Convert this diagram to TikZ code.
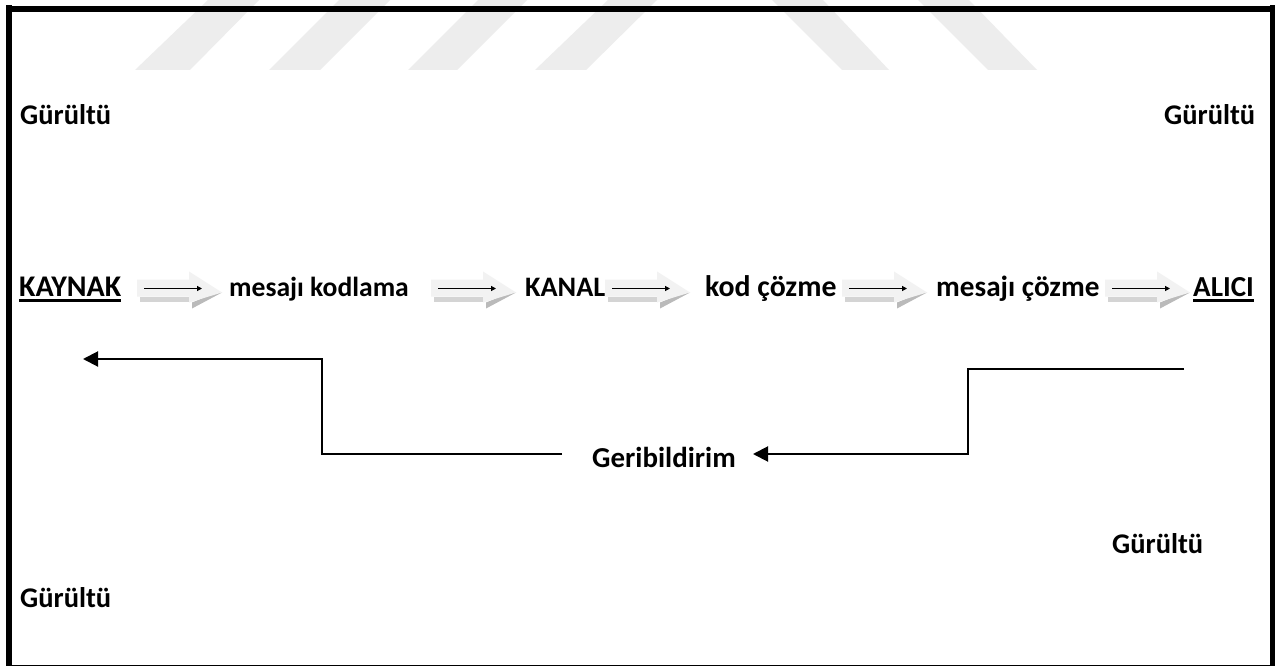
\documentclass[tikz,border=0pt]{standalone}
\usepackage{fontspec}
\setmainfont{Carlito}
\usetikzlibrary{arrows.meta}
\tikzset{
 lbl/.style={font=\fontsize{#1}{#1}\bfseries\selectfont,inner sep=0pt,anchor=base west,text=black},
 lbl/.default=28.5,
 stripe/.style={fill=black!7,draw=none},
 frameedge/.style={fill=black,draw=none},
 fb/.style={draw=black,line width=2pt,-{Triangle[length=15pt,width=15pt]}},
 thinarrow/.style={draw=black,line width=1.2pt,-{Triangle[length=5pt,width=5pt]}},
 uline/.style={draw=black,line width=2.5pt},
}
\newcommand{\blockarrow}[3]{% name, x start, thin-arrow y
 \begin{scope}[shift={(#2,#3)}]
  \fill[black!17] (3,8) rectangle (53,13);
  \fill[black!27] (55,14)--(80,4)--(85,4)--(55,20)--cycle;
  \fill[black!5] (0,-9)--(52,-9)--(52,-17)--(85,4)--(52,14)--(52,8)--(0,8)--cycle;
  \coordinate (#1s) at (7,0);
  \coordinate (#1e) at (65,0);
  \draw[thinarrow] (#1s) -- (#1e);
 \end{scope}}
\begin{document}
\begin{tikzpicture}[x=1pt,y=-1pt]
\useasboundingbox (0,0) rectangle (1280,666);
\fill[white] (0,0) rectangle (1280,666);
\foreach \a/\b/\c/\d in {135/190/259/208,269/320/390/339,408/457/527/478,535/586/657/608}
  \fill[stripe] (\a,70)--(\b,70)--(\c,0)--(\d,0)--cycle;
\foreach \a/\b/\c/\d in {842/889/823/772,988/1037/969/918}
  \fill[stripe] (\a,70)--(\b,70)--(\c,0)--(\d,0)--cycle;
\fill[frameedge] (6,6) rectangle (1275,12);
\fill[frameedge] (6,5) rectangle (12,666);
\fill[frameedge] (1269.5,5) rectangle (1275,666);
\fill[frameedge] (6,664.5) rectangle (1275,666);

\node[lbl] (g1) at (20,125) {Gürültü};
\node[lbl] (g2) at (1164,125) {Gürültü};
\node[lbl] (g3) at (1112,553) {Gürültü};
\node[lbl] (g4) at (20,607) {Gürültü};

\node[lbl=30] (kaynak) at (19,296) {KAYNAK};
\node[lbl=27.6] (kodlama) at (229,296) {mesajı kodlama};
\node[lbl=28.2] (kanal) at (525,296) {KANAL};
\node[lbl=29.8] (kod) at (705,296) {kod çözme};
\node[lbl=29.2] (cozme) at (936,296) {mesajı çözme};
\node[lbl=29] (alici) at (1193,296) {ALICI};
\node[lbl=28.9] (geri) at (592,467) {Geribildirim};
\draw[uline] ([yshift=-4.5pt]kaynak.base west) -- ([yshift=-4.5pt]kaynak.base east);
\draw[uline] ([yshift=-4.5pt]alici.base west) -- ([yshift=-4.5pt]alici.base east);

\blockarrow{a}{137}{288.5}
\blockarrow{b}{431}{288.5}
\blockarrow{c}{605}{288.5}
\blockarrow{d}{842}{288.5}
\blockarrow{e}{1105}{288.5}

\coordinate (f1) at (1184,369);
\coordinate (f2) at (968,369);
\coordinate (f3) at (968,454);
\coordinate (t1) at (83,359);
\coordinate (t2) at (322,359);
\coordinate (t3) at (322,454);
\coordinate (t4) at (562,454);
\coordinate (f4) at (753,454);
\draw[fb] (f1) -- (f2) -- (f3) -- (f4);
\draw[fb] (t4) -- (t3) -- (t2) -- (t1);
\end{tikzpicture}
\end{document}
